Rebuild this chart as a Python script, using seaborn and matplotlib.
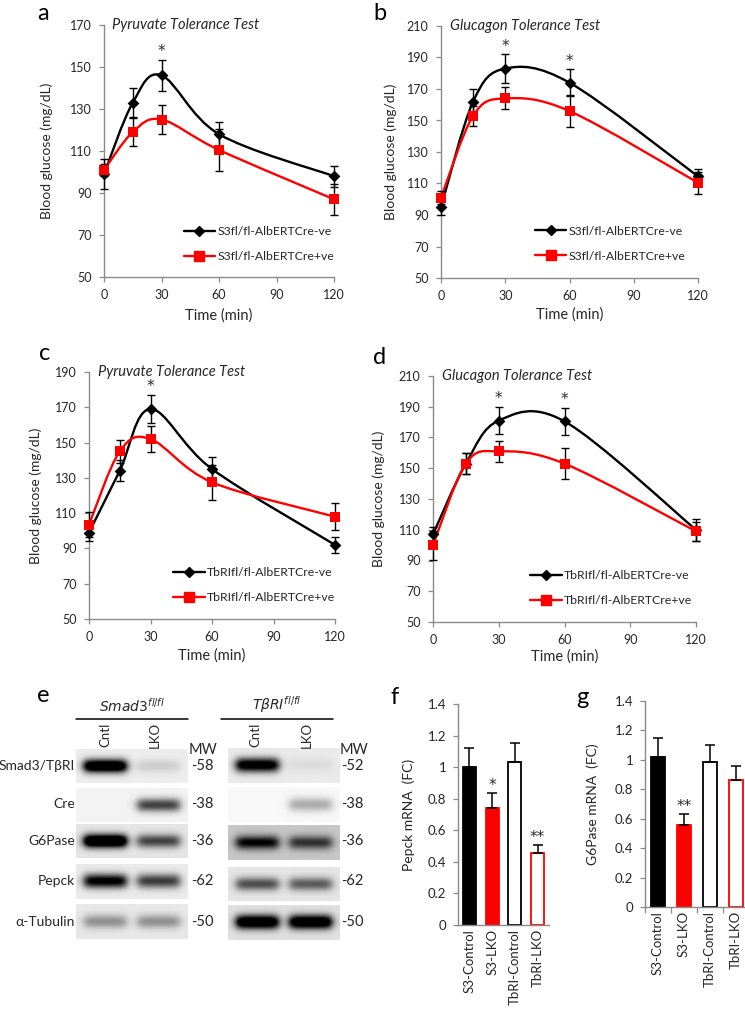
import numpy as np
import matplotlib
matplotlib.use("Agg")
import matplotlib.pyplot as plt
import seaborn as sns
from matplotlib.path import Path
from matplotlib.patches import PathPatch
from matplotlib.lines import Line2D

# ---------------- data ----------------
time_min = [0, 15, 30, 60, 120]

# a: Smad3 pyruvate tolerance
a_neg = [99, 133, 146, 118, 98]
a_neg_err = [7, 7, 7.5, 6, 5]
a_pos = [101, 119, 125, 110.5, 87]
a_pos_err = [3, 6.5, 7, 10, 7.5]
a_star = [30]

# b: Smad3 glucagon tolerance
b_neg = [95, 162, 183, 174, 114.5]
b_neg_err = [5, 8, 9, 8.5, 4.5]
b_pos = [101, 153, 164, 156, 110.5]
b_pos_err = [4, 6.5, 7, 10, 7]
b_star = [30, 60]

# c: TbRI pyruvate tolerance
c_neg = [99, 134, 169, 135, 92]
c_neg_err = [5, 6, 8, 7, 4.5]
c_pos = [103.5, 145, 152, 127.5, 108]
c_pos_err = [7, 6.5, 7.5, 10, 7.5]
c_star = [30]

# d: TbRI glucagon tolerance
d_neg = [107, 153, 181, 180.5, 110]
d_neg_err = [4.5, 7, 9, 9, 7]
d_pos = [100, 153, 161, 153, 109]
d_pos_err = [9.5, 7, 7, 10, 6]
d_star = [30, 60]

s3_labels = ["S3fl/fl-AlbERTCre-ve", "S3fl/fl-AlbERTCre+ve"]
tb_labels = ["TbRIfl/fl-AlbERTCre-ve", "TbRIfl/fl-AlbERTCre+ve"]

# f, g: qPCR
groups = ["S3-Control", "S3-LKO", "TbRI-Control", "TbRI-LKO"]
pepck_fc = [1.0, 0.74, 1.03, 0.455]
pepck_err = [0.12, 0.095, 0.125, 0.053]
pepck_sig = ["", "*", "", "**"]
g6pase_fc = [1.02, 0.56, 0.985, 0.86]
g6pase_err = [0.128, 0.07, 0.118, 0.1]
g6pase_sig = ["", "**", "", ""]

# e: western blots (band darkness per lane, 0 = no band)
blot_rows = ["Smad3/TβRI", "Cre", "G6Pase", "Pepck", "α-Tubulin"]
smad3_mw = ["-58", "-38", "-36", "-62", "-50"]
tbri_mw = ["-52", "-38", "-36", "-62", "-50"]
smad3_cntl = [1.3, 0.0, 1.4, 1.0, 0.35]
smad3_lko = [0.12, 0.7, 0.65, 0.7, 0.35]
tbri_cntl = [1.1, 0.0, 0.8, 0.6, 1.2]
tbri_lko = [0.06, 0.3, 0.6, 0.55, 1.2]
smad3_bg = [0.93, 0.95, 0.9, 0.92, 0.91]
tbri_bg = [0.92, 0.97, 0.78, 0.9, 0.88]

# ---------------- style ----------------
sns.set_theme(style="white")
plt.rcParams["font.family"] = ["Lato", "DejaVu Sans"]
plt.rcParams["mathtext.fontset"] = "dejavusans"

W, H = 745, 1009
GRAY = "#8a8a8a"
TXT = "#262626"
RED = "#ff0000"

fig = plt.figure(figsize=(W / 100, H / 100), dpi=100)
fig.patch.set_facecolor("white")


def rect(l, t, r, b):
    return [l / W, 1 - b / H, (r - l) / W, (b - t) / H]


def fx(x):
    return x / W


def fy(y):
    return 1 - y / H


def style_axes(ax, fs):
    sns.despine(ax=ax)
    for s in ["left", "bottom"]:
        ax.spines[s].set_color(GRAY)
        ax.spines[s].set_linewidth(1.0)
    ax.tick_params(axis="both", which="both", direction="out", length=3.5,
                   width=0.9, color=GRAY, labelsize=fs, labelcolor=TXT,
                   left=True, bottom=True)
    ax.set_facecolor("white")


def smooth_line(ax, x, y, color):
    # Excel-like smoothed line through the points (cubic Bezier segments)
    pts = np.column_stack([x, y]).astype(float)
    n = len(pts)
    verts = [pts[0]]
    codes = [Path.MOVETO]
    for i in range(n - 1):
        p0 = pts[max(i - 1, 0)]
        p1 = pts[i]
        p2 = pts[i + 1]
        p3 = pts[min(i + 2, n - 1)]
        verts += [p1 + (p2 - p0) / 6, p2 - (p3 - p1) / 6, p2]
        codes += [Path.CURVE4] * 3
    ax.add_patch(PathPatch(Path(verts, codes), fill=False, edgecolor=color,
                           lw=1.7, zorder=2, capstyle="round"))


def tolerance_panel(ax, neg, neg_err, pos, pos_err, stars, ymax, title,
                    labels, ylab_off, xlab_off, leg_anchor):
    style_axes(ax, 9)
    ax.set_xlim(0, 120)
    ax.set_ylim(50, ymax)
    ax.set_xticks([0, 30, 60, 90, 120])
    ax.set_yticks(np.arange(50, ymax + 1, 20))
    ax.tick_params(axis="x", pad=5)
    ax.tick_params(axis="y", pad=5.5)

    for vals, err, col, mk, ms, z in [(neg, neg_err, "black", "D", 36, 4),
                                      (pos, pos_err, RED, "s", 52, 5)]:
        smooth_line(ax, time_min, vals, col)
        ax.errorbar(time_min, vals, yerr=err, fmt="none", ecolor="black",
                    elinewidth=1.0, capsize=3, capthick=1.0, zorder=3,
                    clip_on=False)
        sns.scatterplot(x=time_min, y=vals, marker=mk, s=ms, color=col,
                        edgecolor=col, linewidth=0, ax=ax, zorder=z,
                        clip_on=False, legend=False)

    for t in stars:
        i = time_min.index(t)
        ax.text(t, neg[i] + neg_err[i] + 0.3, "*", ha="center", va="bottom",
                fontsize=11, color=TXT, family="DejaVu Sans")

    ax.text(0.035, 1.0, title, transform=ax.transAxes, ha="left", va="center",
            fontsize=10.5, style="italic", color=TXT)
    ax.set_ylabel("Blood glucose (mg/dL)", fontsize=10, color=TXT)
    ax.set_xlabel("Time (min)", fontsize=10.5, color=TXT)
    ax.yaxis.set_label_coords(ylab_off, 0.5)
    ax.xaxis.set_label_coords(0.5, xlab_off)

    handles = [Line2D([], [], color="black", marker="D", markersize=5.5, lw=1.7),
               Line2D([], [], color=RED, marker="s", markersize=6.5, lw=1.7)]
    leg = ax.legend(handles, labels, loc="lower right", bbox_to_anchor=leg_anchor,
                    frameon=False, fontsize=8.8, handlelength=2.6,
                    handletextpad=0.15, labelspacing=1.15, borderpad=0,
                    borderaxespad=0)
    for t in leg.get_texts():
        t.set_color(TXT)


def bar_panel(ax, vals, err, sig, ylabel, ylab_off, boundary_ticks):
    style_axes(ax, 9.5)
    fills = ["black", RED, "white", "white"]
    edges = ["black", RED, "black", RED]
    sns.barplot(x=groups, y=vals, hue=groups, palette=dict(zip(groups, fills)),
                legend=False, width=0.57, ax=ax, saturation=1)
    bars = [b for c in ax.containers for b in c]
    for b, ec in zip(bars, edges):
        b.set_edgecolor(ec)
        b.set_linewidth(1.3)
    ax.errorbar(range(len(groups)), vals, yerr=[[0] * len(err), err], fmt="none",
                ecolor="black", elinewidth=1.1, capsize=3.5, capthick=1.1, zorder=5)
    for i, s in enumerate(sig):
        if s:
            ax.text(i, vals[i] + err[i] + 0.0, s, ha="center", va="bottom",
                    fontsize=11, color=TXT, family="DejaVu Sans")
    ax.set_xlim(-0.5, len(groups) - 0.5)
    ax.set_ylim(0, 1.4)
    ax.set_yticks(np.arange(0, 1.41, 0.2))
    ax.set_yticklabels(["0", "0.2", "0.4", "0.6", "0.8", "1", "1.2", "1.4"])
    ax.set_xticks(range(len(groups)))
    ax.set_xticklabels(groups, rotation=90, fontsize=9.5, color=TXT)
    ax.tick_params(axis="x", length=0, pad=3)
    ax.tick_params(axis="y", pad=5)
    if boundary_ticks:
        ax.set_xticks(np.arange(-0.5, len(groups), 1.0), minor=True)
        ax.tick_params(axis="x", which="minor", length=4, color=GRAY)
    ax.set_xlabel("")
    ax.set_ylabel(ylabel, fontsize=10, color=TXT)
    ax.yaxis.set_label_coords(ylab_off, 0.5)


# ---------------- panels a-d ----------------
ax_a = fig.add_axes(rect(104, 25, 334, 277))
tolerance_panel(ax_a, a_neg, a_neg_err, a_pos, a_pos_err, a_star, 170,
                "Pyruvate Tolerance Test", s3_labels, -51 / 230, -31 / 252,
                (1.0, 0.06))

ax_b = fig.add_axes(rect(441, 26, 698, 278))
tolerance_panel(ax_b, b_neg, b_neg_err, b_pos, b_pos_err, b_star, 210,
                "Glucagon Tolerance Test", s3_labels, -44 / 257, -29 / 252,
                (0.95, 0.065))

ax_c = fig.add_axes(rect(89, 372, 335, 619))
tolerance_panel(ax_c, c_neg, c_neg_err, c_pos, c_pos_err, c_star, 190,
                "Pyruvate Tolerance Test", tb_labels, -47 / 246, -29 / 247,
                (1.0, 0.065))

ax_d = fig.add_axes(rect(433, 376, 696, 622))
tolerance_panel(ax_d, d_neg, d_neg_err, d_pos, d_pos_err, d_star, 210,
                "Glucagon Tolerance Test", tb_labels, -48 / 263, -27 / 246,
                (0.985, 0.065))

# ---------------- panels f, g ----------------
ax_f = fig.add_axes(rect(458, 704, 549, 925))
bar_panel(ax_f, pepck_fc, pepck_err, pepck_sig, "Pepck mRNA  (FC)", -43 / 91, False)

ax_g = fig.add_axes(rect(645, 701, 749, 907))
bar_panel(ax_g, g6pase_fc, g6pase_err, g6pase_sig, "G6Pase mRNA  (FC)", -46 / 104, True)

# ---------------- panel e: blots ----------------
strip_rows_left = [(749, 783), (788, 822), (824, 858), (864, 899), (904, 939)]
strip_rows_right = [(748, 783), (787, 822), (825, 860), (867, 901), (905, 940)]


def blot_strip(ax, bg, cntl, lko):
    ny, nx = 40, 120
    yy, xx = np.mgrid[0:ny, 0:nx]
    u = xx / (nx - 1)
    v = yy / (ny - 1)
    img = np.full((ny, nx), bg, dtype=float)
    for center, val in [(0.26, cntl), (0.74, lko)]:
        px_ = 1 / (1 + np.exp(-(u - (center - 0.19)) * 45)) * \
            1 / (1 + np.exp((u - (center + 0.19)) * 45))
        py_ = np.exp(-((v - 0.5) / 0.2) ** 2)
        img -= val * px_ * py_
    ax.imshow(np.clip(img, 0, 1), cmap="gray", vmin=0, vmax=1, aspect="auto",
              interpolation="bilinear")
    ax.set_axis_off()


for left, right, cntl, lko, bg, rows in [
        (76, 188, smad3_cntl, smad3_lko, smad3_bg, strip_rows_left),
        (228, 340, tbri_cntl, tbri_lko, tbri_bg, strip_rows_right)]:
    for k, (top, bot) in enumerate(rows):
        ax_s = fig.add_axes(rect(left, top, right, bot))
        blot_strip(ax_s, bg[k], cntl[k], lko[k])

row_centers = [766, 804, 841, 881, 922]
for name, yc in zip(blot_rows, row_centers):
    fig.text(fx(75), fy(yc), name, ha="right", va="center", fontsize=10, color=TXT)
for mw, yc in zip(smad3_mw, row_centers):
    fig.text(fx(191), fy(yc), mw, ha="left", va="center", fontsize=10.5, color=TXT)
for mw, yc in zip(tbri_mw, row_centers):
    fig.text(fx(341), fy(yc), mw, ha="left", va="center", fontsize=10.5, color=TXT)
fig.text(fx(189), fy(750), "MW", ha="left", va="center", fontsize=10.5, color=TXT)
fig.text(fx(340), fy(750), "MW", ha="left", va="center", fontsize=10.5, color=TXT)

for x0, x1, head, lanes in [(76, 188, r"$Smad3^{fl/fl}$", [105, 155]),
                            (221, 333, r"$T\beta RI^{fl/fl}$", [255, 307])]:
    fig.add_artist(Line2D([fx(x0), fx(x1)], [fy(719), fy(719)], color="black", lw=1.1))
    fig.text(fx((x0 + x1) / 2), fy(705), head, ha="center", va="center",
             fontsize=10, color=TXT)
    for xl, lab in zip(lanes, ["Cntl", "LKO"]):
        fig.text(fx(xl), fy(735), lab, ha="center", va="center", rotation=90,
                 fontsize=9.5, color=TXT)

# ---------------- panel letters ----------------
for letter, x, y in [("a", 43, 13), ("b", 380, 13), ("c", 45, 353), ("d", 380, 357),
                     ("e", 43, 695), ("f", 395, 698), ("g", 582, 698)]:
    fig.text(fx(x), fy(y), letter, ha="center", va="center", fontsize=17, color="black")

fig.savefig("out.png", dpi=100)
plt.close(fig)
